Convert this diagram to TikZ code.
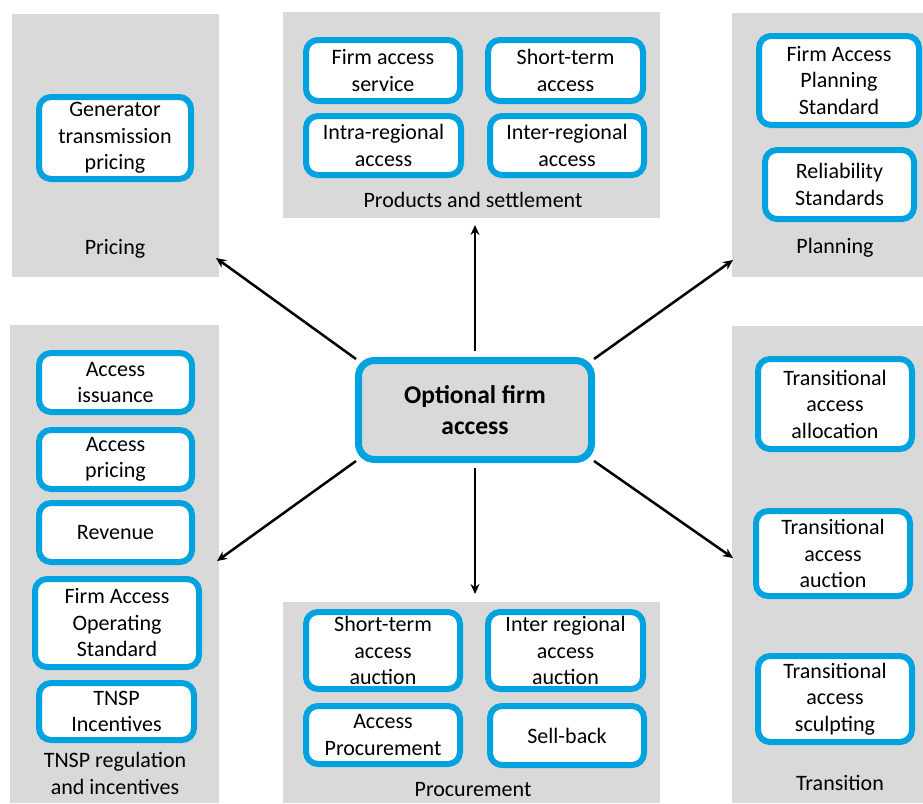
\documentclass[tikz,border=0pt]{standalone}
\usepackage{fontspec}
\setmainfont{Carlito}
\usetikzlibrary{arrows.meta}
\definecolor{panelgray}{HTML}{D9D9D9}
\definecolor{accentblue}{HTML}{00A3E0}
\tikzset{
  panel/.style={fill=panelgray, draw=none, inner sep=0pt},
  itembox/.style={draw=accentblue, line width=6pt, fill=white, rounded corners=12pt,
    align=center, inner sep=0pt, font=\fontsize{22}{26.5}\selectfont},
  hub/.style={draw=accentblue, line width=7pt, fill=panelgray, rounded corners=16pt,
    align=center, inner sep=0pt, font=\fontsize{25.5}{31}\selectfont\bfseries},
  caption/.style={align=center, inner sep=0pt, font=\fontsize{22}{26.5}\selectfont},
  link/.style={line width=2.5pt, -{Stealth[length=10pt,width=9pt]}},
}
% item box: name, centre x, centre y, outer width, outer height; the text follows
\newcommand{\ibox}[5]{%
  \node[itembox, minimum width=#4pt-6pt, minimum height=#5pt-6pt] (#1) at (#2,#3)}
\begin{document}
\begin{tikzpicture}[x=1pt,y=-1pt]
\useasboundingbox (0,0) rectangle (923,803);

% group panels
\node[panel, minimum width=207pt, minimum height=263pt] (pricing) at (115.5,145.5) {};
\node[panel, minimum width=377pt, minimum height=206pt] (products) at (471.5,115) {};
\node[panel, minimum width=191pt, minimum height=264pt] (planning) at (827.5,145) {};
\node[panel, minimum width=209pt, minimum height=478pt] (tnsp) at (114.5,564) {};
\node[panel, minimum width=377pt, minimum height=201pt] (procurement) at (471.5,702.5) {};
\node[panel, minimum width=191pt, minimum height=477pt] (transition) at (827.5,564.5) {};

% panel captions
\node[caption] (pricingcap) at (115,249) {Pricing};
\node[caption] (productscap) at (473,200) {Products and settlement};
\node[caption] (planningcap) at (835,248) {Planning};
\node[caption] (tnspcap) at (115,773.5) {TNSP regulation\\and incentives};
\node[caption] (procurementcap) at (473,790) {Procurement};
\node[caption] (transitioncap) at (840,783) {Transition};

% pricing
\ibox{gtp}{115}{138}{158}{88} {Generator\\transmission\\pricing};

% products and settlement
\ibox{fas}{383}{70.5}{160}{67} {Firm access\\service};
\ibox{sta}{565.5}{70.5}{161}{67} {Short-term\\access};
\ibox{ira}{383.5}{145.5}{161}{65} {Intra-regional\\access};
\ibox{era}{567}{145.5}{160}{65} {Inter-regional\\access};

% planning
\ibox{faps}{839}{80.5}{166}{95} {Firm Access\\Planning\\Standard};
\ibox{rs}{839.5}{184.5}{155}{75} {Reliability\\Standards};

% TNSP regulation and incentives
\ibox{ai}{115.5}{382.5}{159}{65} {Access\\issuance};
\ibox{ap}{115.5}{459.5}{159}{65} {Access\\pricing};
\ibox{rev}{115.5}{532.5}{159}{65} {Revenue};
\ibox{faos}{117}{623}{170}{94} {Firm Access\\Operating\\Standard};
\ibox{ti}{116.5}{711.5}{161}{63} {TNSP\\Incentives};

% procurement
\ibox{staa}{383}{650.5}{160}{83} {Short-term\\access\\auction};
\ibox{iraa}{565.5}{650.5}{161}{83} {Inter regional\\access\\auction};
\ibox{apr}{383}{735}{160}{64} {Access\\Procurement};
\ibox{sb}{567}{735.5}{160}{65} {Sell-back};

% transition
\ibox{taal}{835}{404}{160}{96} {Transitional\\access\\allocation};
\ibox{taau}{833}{553.5}{160}{91} {Transitional\\access\\auction};
\ibox{tas}{835}{699}{160}{92} {Transitional\\access\\sculpting};

% central node
\node[hub, minimum width=233pt, minimum height=99pt] (hub) at (475,410) {Optional firm\\access};

% arrow tips
\coordinate (tipPricing) at (216,258);
\coordinate (tipProducts) at (475,225);
\coordinate (tipPlanning) at (733,260);
\coordinate (tipTnsp) at (217,561);
\coordinate (tipProcurement) at (475,594);
\coordinate (tipTransition) at (733,558);

\draw[link] ([shift={(1,2)}]hub.north west) -- (tipPricing);
\draw[link, shorten <=6pt] (hub.north) -- (tipProducts);
\draw[link] ([shift={(-1,2)}]hub.north east) -- (tipPlanning);
\draw[link] ([shift={(1,-2)}]hub.south west) -- (tipTnsp);
\draw[link, shorten <=5pt] (hub.south) -- (tipProcurement);
\draw[link] ([shift={(-1,-2)}]hub.south east) -- (tipTransition);
\end{tikzpicture}
\end{document}
